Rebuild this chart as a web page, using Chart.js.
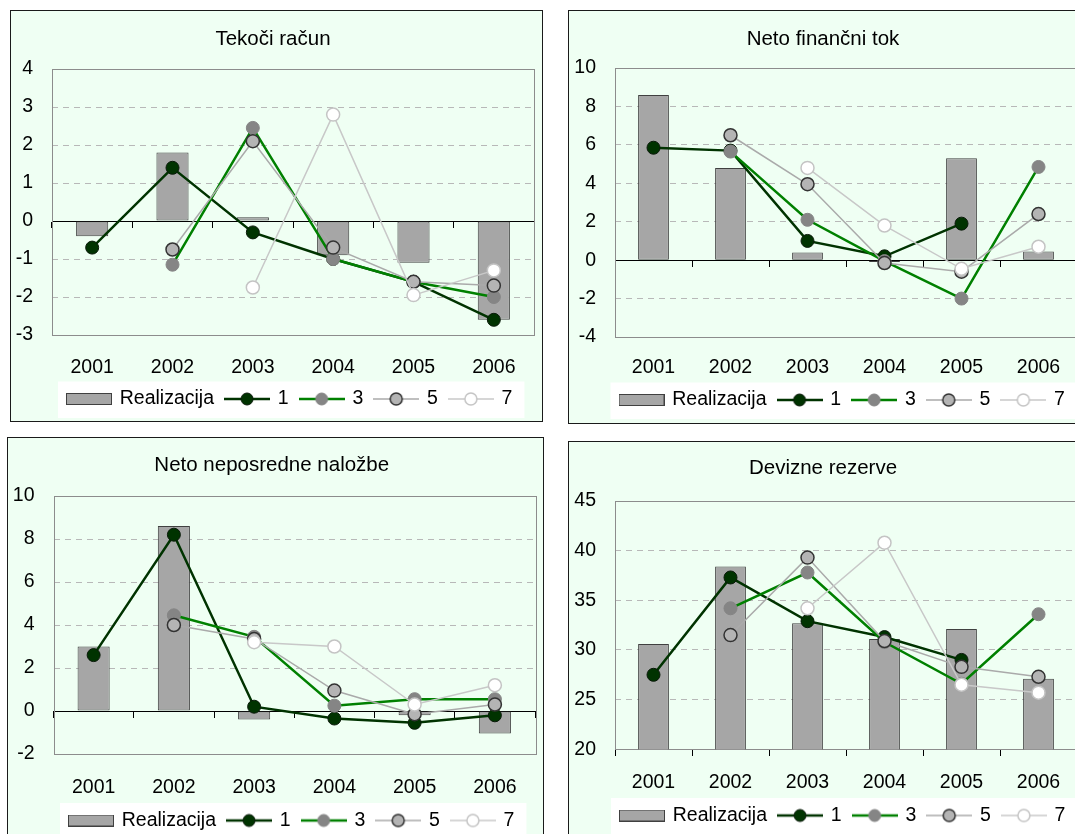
<!DOCTYPE html>
<html lang="sl">
<head>
<meta charset="utf-8">
<title>Napovedi in realizacija</title>
<script src="https://cdn.jsdelivr.net/npm/chart.js@4/dist/chart.umd.min.js"></script>
<style>
  html, body { margin: 0; padding: 0; background: #ffffff; width: 1075px; height: 834px; overflow: hidden; }
  .panel { position: absolute; border: 1px solid #1a1a1a; background: #effff3; }
  .panel canvas { display: block; }
</style>
</head>
<body>
<div class="panel" style="left:10px;top:10px;width:531px;height:410px"><canvas id="c1" width="531" height="410"></canvas></div>
<div class="panel" style="left:568px;top:10px;width:528px;height:412px"><canvas id="c2" width="528" height="412"></canvas></div>
<div class="panel" style="left:7px;top:437px;width:535px;height:418px"><canvas id="c3" width="535" height="418"></canvas></div>
<div class="panel" style="left:568px;top:441px;width:528px;height:418px"><canvas id="c4" width="528" height="418"></canvas></div>

<script>
// Leta
const years = ['2001', '2002', '2003', '2004', '2005', '2006'];
const seriesNames = ['Realizacija', '1', '3', '5', '7'];

// Tekoči račun
const tekociReal = [-0.4, 1.8, 0.1, -0.9, -1.1, -2.6];
const tekoci1 = [-0.7, 1.4, -0.3, -1.0, -1.6, -2.6];
const tekoci3 = [null, -1.15, 2.45, -1.0, -1.6, -2.0];
const tekoci5 = [null, -0.75, 2.1, -0.7, -1.6, -1.7];
const tekoci7 = [null, null, -1.75, 2.8, -1.95, -1.3];
const tekociTicks = [-3, 4, 1];

// Neto finančni tok
const financniReal = [8.6, 4.8, 0.4, -0.1, 5.3, 0.45];
const financni1 = [5.85, 5.7, 1.0, 0.2, 1.9, null];
const financni3 = [null, 5.65, 2.1, -0.05, -2.0, 4.85];
const financni5 = [null, 6.5, 3.95, -0.15, -0.6, 2.4];
const financni7 = [null, null, 4.8, 1.8, -0.45, 0.7];
const financniTicks = [-4, 10, 2];

// Neto neposredne naložbe
const nalozbeReal = [3.0, 8.6, -0.4, 0, -0.2, -1.05];
const nalozbe1 = [2.6, 8.2, 0.2, -0.35, -0.55, -0.2];
const nalozbe3 = [null, 4.45, 3.45, 0.25, 0.55, 0.55];
const nalozbe5 = [null, 4.0, 3.35, 0.95, -0.15, 0.3];
const nalozbe7 = [null, null, 3.2, 3.0, 0.3, 1.2];
const nalozbeTicks = [-2, 10, 2];

// Devizne rezerve
const rezerveReal = [30.6, 38.4, 32.7, 31.1, 32.1, 27.1];
const rezerve1 = [27.5, 37.3, 32.9, 31.3, 29.0, null];
const rezerve3 = [null, 34.2, 37.8, 30.8, 26.6, 33.6];
const rezerve5 = [null, 31.5, 39.3, 30.9, 28.3, 27.3];
const rezerve7 = [null, null, 34.2, 40.8, 26.5, 25.7];
const rezerveTicks = [20, 45, 5];

Chart.defaults.font.family = '"Liberation Sans", Arial, sans-serif';
Chart.defaults.color = '#000';

const FS = 19.5;   // velikost pisave za osi in legendo
const FT = 20.5;   // naslov
const LEG_PAD = 12;
const LEG_BOX = 42;

const barStyle = { fill: '#a6a6a6', border: '#404040' };
const lineStyles = [
  { line: '#003300', width: 2.5, fill: '#003300', border: '#0a1a0a', bw: 1 },
  { line: '#008000', width: 2.5, fill: '#858585', border: '#858585', bw: 1 },
  { line: '#aaaaaa', width: 1.5, fill: '#b4b4b4', border: '#333333', bw: 1.5 },
  { line: '#c8c8c8', width: 1.5, fill: '#ffffff', border: '#c4c4c4', bw: 1.5 }
];

// ikone za legendo (pravokotnik / črta s krogcem)
function makeIcons() {
  const icons = [];
  const b = document.createElement('canvas');
  b.width = 46; b.height = 12;
  let g = b.getContext('2d');
  g.fillStyle = barStyle.fill;
  g.fillRect(0.5, 0.5, 45, 11);
  g.strokeStyle = barStyle.border;
  g.lineWidth = 1;
  g.strokeRect(0.5, 0.5, 45, 11);
  icons.push(b);
  lineStyles.forEach(s => {
    const c = document.createElement('canvas');
    c.width = 46; c.height = 16;
    const k = c.getContext('2d');
    k.strokeStyle = s.line;
    k.lineWidth = s.width;
    k.beginPath(); k.moveTo(0, 8); k.lineTo(46, 8); k.stroke();
    k.beginPath(); k.arc(23, 8, 6, 0, Math.PI * 2);
    k.fillStyle = s.fill; k.fill();
    k.lineWidth = s.bw; k.strokeStyle = s.border; k.stroke();
    icons.push(c);
  });
  return icons;
}
const legendIcons = makeIcons();

function buildChart(id, title, real, s1, s3, s5, s7, ticks, L) {
  const [yMin, yMax, step] = ticks;
  const axisAt = yMin < 0 ? 0 : yMin;
  const legendTop = L.legendY - LEG_PAD - FS / 2;
  const legendBottom = legendTop + FS + LEG_PAD + 10;
  const titleLH = FT * 1.2;

  const lineSets = [s1, s3, s5, s7].map((d, i) => {
    const s = lineStyles[i];
    return {
      type: 'line',
      label: seriesNames[i + 1],
      data: d,
      xAxisID: 'x',
      borderColor: s.line,
      borderWidth: s.width,
      pointRadius: 6.5,
      pointHoverRadius: 6.5,
      pointBackgroundColor: s.fill,
      pointBorderColor: s.border,
      pointBorderWidth: s.bw,
      tension: 0,
      order: 4 - i
    };
  });

  const plotFrame = {
    id: 'plotFrame',
    afterLayout(chart) {
      // legenda se začne kot v izvirniku
      const lg = chart.legend;
      const dx = L.legendX - (lg.left + LEG_PAD);
      lg.left += dx; lg.right += dx;
    },
    beforeDraw(chart) {
      const ctx = chart.ctx;
      const lg = chart.legend;
      const x0 = L.legendX - 10;
      const x1 = L.legendX + lg.lineWidths[0] - LEG_PAD + 12;
      ctx.save();
      ctx.fillStyle = '#ffffff';
      ctx.fillRect(x0, L.legendY - 17.5, x1 - x0, 36.5);
      ctx.restore();
    },
    beforeDatasetsDraw(chart) {
      const a = chart.chartArea;
      const ctx = chart.ctx;
      ctx.save();
      ctx.strokeStyle = '#8c8c8c';
      ctx.lineWidth = 1;
      ctx.strokeRect(Math.round(a.left) + 0.5, Math.round(a.top) + 0.5,
        Math.round(a.right - a.left), Math.round(a.bottom - a.top));
      ctx.restore();
    }
  };

  return new Chart(document.getElementById(id), {
    type: 'bar',
    data: {
      labels: years,
      datasets: [{
        type: 'bar',
        label: seriesNames[0],
        data: real,
        xAxisID: 'x',
        backgroundColor: barStyle.fill,
        borderColor: barStyle.border,
        borderWidth: 1,
        borderSkipped: false,
        barPercentage: 1,
        categoryPercentage: 0.4,
        order: 5
      }].concat(lineSets)
    },
    options: {
      responsive: false,
      animation: false,
      events: [],
      layout: { padding: { top: 0, left: 0, right: L.W - L.plotRight, bottom: L.H - legendBottom } },
      plugins: {
        title: {
          display: true,
          text: title,
          color: '#000',
          font: { size: FT, weight: 'normal' },
          padding: { top: L.titleY - titleLH / 2, bottom: L.plotTop - L.titleY - titleLH / 2 }
        },
        legend: {
          position: 'bottom',
          align: 'start',
          labels: {
            usePointStyle: true,
            pointStyleWidth: LEG_BOX,
            padding: LEG_PAD,
            color: '#000',
            font: { size: FS },
            generateLabels: chart => chart.data.datasets.map((ds, i) => ({
              text: ds.label,
              pointStyle: legendIcons[i],
              fillStyle: 'rgba(0,0,0,0)',
              strokeStyle: 'rgba(0,0,0,0)',
              lineWidth: 0,
              hidden: false,
              datasetIndex: i
            }))
          }
        },
        tooltip: { enabled: false }
      },
      scales: {
        x: {
          type: 'category',
          offset: true,
          grid: { display: false, drawTicks: false, offset: true },
          border: { display: false },
          ticks: { padding: L.labelY - L.plotBottom - FS * 0.6, font: { size: FS }, color: '#000', maxRotation: 0 },
          afterFit: s => { s.height = legendTop - L.plotBottom; }
        },
        x2: {
          type: 'category',
          position: { y: axisAt },
          offset: true,
          grid: { display: true, drawOnChartArea: false, drawTicks: true, tickLength: 6, offset: true, color: '#000' },
          border: { display: true, color: '#000', width: 1 },
          ticks: { display: false }
        },
        y: {
          min: yMin,
          max: yMax,
          grid: {
            drawTicks: false,
            color: c => (c.tick && (c.tick.value === yMin || c.tick.value === yMax || c.tick.value === axisAt)) ? 'rgba(0,0,0,0)' : '#b8b8b8'
          },
          border: { display: false, dash: [6, 5] },
          ticks: { stepSize: step, padding: 19, font: { size: FS }, color: '#000' },
          afterFit: s => { s.width = L.plotLeft; }
        }
      }
    },
    plugins: [plotFrame]
  });
}

buildChart('c1', 'Tekoči račun', tekociReal, tekoci1, tekoci3, tekoci5, tekoci7, tekociTicks,
  { W: 531, H: 410, plotLeft: 41, plotRight: 524, plotTop: 58, plotBottom: 324, titleY: 28, labelY: 357, legendY: 388, legendX: 57 });
buildChart('c2', 'Neto finančni tok', financniReal, financni1, financni3, financni5, financni7, financniTicks,
  { W: 528, H: 412, plotLeft: 46, plotRight: 508, plotTop: 57, plotBottom: 326, titleY: 28, labelY: 357, legendY: 389, legendX: 51.5 });
buildChart('c3', 'Neto neposredne naložbe', nalozbeReal, nalozbe1, nalozbe3, nalozbe5, nalozbe7, nalozbeTicks,
  { W: 535, H: 418, plotLeft: 45.5, plotRight: 527.5, plotTop: 58, plotBottom: 316, titleY: 27, labelY: 350, legendY: 382.5, legendX: 62 });
buildChart('c4', 'Devizne rezerve', rezerveReal, rezerve1, rezerve3, rezerve5, rezerve7, rezerveTicks,
  { W: 528, H: 418, plotLeft: 46, plotRight: 508, plotTop: 59, plotBottom: 307.3, titleY: 26, labelY: 341, legendY: 373.5, legendX: 52 });
</script>
</body>
</html>
